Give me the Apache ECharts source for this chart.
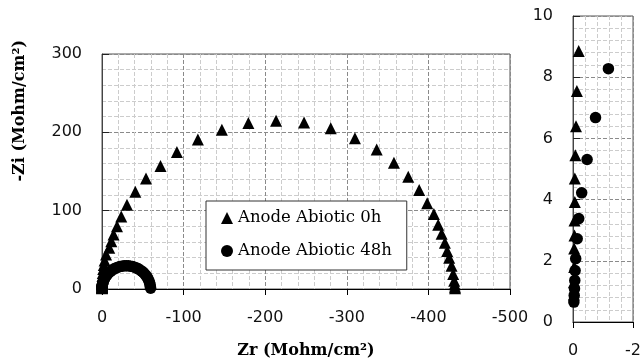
<!DOCTYPE html>
<html><head><meta charset="utf-8">
<script src="https://cdn.jsdelivr.net/npm/echarts@6/dist/echarts.min.js"></script>
<style>html,body{margin:0;padding:0;background:#fff}#c{width:644px;height:364px}</style>
</head><body><div id="c"></div>
<script>
const seriesNames = ['Anode Abiotic 0h', 'Anode Abiotic 48h'];
// [Zr, -Zi]
const abiotic0h = [
  [-0.03,0.9],[-0.03,1.3],[-0.04,1.8],[-0.04,2.4],[-0.05,2.83],[-0.05,3.32],[-0.06,3.92],[-0.06,4.69],
  [-0.08,5.45],[-0.1,6.4],[-0.13,7.55],[-0.19,8.86],[-0.26,10.6],[-0.4,13.2],[-0.65,16.5],[-1.0,20.5],
  [-1.5,25.5],[-2.2,30.5],[-3.2,36.5],[-5.0,44],[-8.9,52.7],[-11.4,61.1],[-14.2,69.5],[-18.4,80.1],
  [-23.6,92.7],[-30.6,107.4],[-40.8,124.3],[-53.9,141.1],[-71.7,157.1],[-91.8,174.8],[-117.5,190.7],
  [-146.9,203.4],[-179.4,211.8],[-213.3,214.7],[-247.6,212.7],[-280.3,205.1],[-310,192.5],[-336.6,178.1],
  [-357.8,161.3],[-375.3,143.2],[-388.7,126.3],[-398.5,109.5],[-406.7,95.6],[-412,82.1],[-416.2,70.4],
  [-420.2,59],[-423,48.5],[-425.5,40],[-428.4,29.6],[-430.4,19],[-431.6,10.6],[-432.2,6],[-432.5,3],[-432.7,1]
];
const abiotic48h = [
  [-0.03,0.65],[-0.04,0.87],[-0.05,1.09],[-0.06,1.36],[-0.07,1.68],[-0.09,2.07],[-0.14,2.72],[-0.19,3.38],
  [-0.29,4.22],[-0.47,5.31],[-0.75,6.68],[-1.18,8.28],[-1.8,10.2],[-2.8,12.5],[-4.0,14.9],[-5.4,17],
  [-7.0,19.1],[-8.7,21],[-10.6,22.8],[-12.7,24.3],[-14.9,25.7],[-17.2,26.9],[-19.5,27.9],[-22,28.7],
  [-24.5,29.2],[-27.1,29.6],[-29.7,29.7],[-32.3,29.6],[-34.9,29.2],[-37.4,28.7],[-39.9,27.9],[-42.2,26.9],
  [-44.5,25.7],[-46.7,24.3],[-48.8,22.8],[-50.7,21],[-52.4,19.1],[-54,17],[-55.4,14.9],[-56.6,12.5],
  [-57.6,10.2],[-58.4,7.7],[-58.9,5.2],[-59.3,2.6],[-59.6,1.0]
];
const mainXTicks = [0, -100, -200, -300, -400, -500];
const mainYTicks = [0, 100, 200, 300];
const insetXTicks = [0, -2];
const insetYTicks = [0, 2, 4, 6, 8, 10];

const numFont = {fontFamily: 'DejaVu Sans', fontSize: 16, color: '#111'};
const majorGrid = {show: true, lineStyle: {color: '#8a8a8a', type: [4, 2], width: 1}};
const minorGrid = {show: true, lineStyle: {color: '#cccccc', type: [4, 2], width: 1}};

function xAx(ticks, gridIndex, name) {
  const mn = Math.min.apply(null, ticks), mx = Math.max.apply(null, ticks);
  return {
    type: 'value', gridIndex: gridIndex, min: mn, max: mx, interval: (mx - mn) / (ticks.length - 1),
    inverse: true, name: name || '', nameLocation: 'middle', nameGap: 54,
    nameTextStyle: {fontFamily: 'DejaVu Serif', fontWeight: 'bold', fontSize: 16, color: '#000'},
    axisLine: {show: true, onZero: false, lineStyle: {color: '#000', width: 1}},
    axisTick: {show: true, inside: false, length: 6, lineStyle: {color: '#000'}},
    axisLabel: Object.assign({margin: 21}, numFont),
    splitLine: majorGrid, minorTick: {show: false, splitNumber: 5}, minorSplitLine: minorGrid
  };
}
function yAx(ticks, gridIndex) {
  const mn = Math.min.apply(null, ticks), mx = Math.max.apply(null, ticks);
  return {
    type: 'value', gridIndex: gridIndex, min: mn, max: mx, interval: (mx - mn) / (ticks.length - 1),
    axisLine: {show: true, onZero: false, lineStyle: {color: '#444', width: 1}},
    axisTick: {show: true, inside: true, length: 7, lineStyle: {color: '#222'}},
    axisLabel: Object.assign({margin: 20}, numFont),
    splitLine: majorGrid, minorTick: {show: false, splitNumber: 5}, minorSplitLine: minorGrid
  };
}
function sc(name, data, idx, sym) {
  return {
    name: name, type: 'scatter', xAxisIndex: idx, yAxisIndex: idx, data: data,
    symbol: sym, symbolSize: sym === 'triangle' ? 12 : 11.5,
    itemStyle: {color: '#000', opacity: 1}, clip: true
  };
}

const chart = echarts.init(document.getElementById('c'), null, {renderer: 'canvas'});
chart.setOption({
  animation: false,
  backgroundColor: '#fff',
  grid: [
    {left: 102, top: 54, width: 408, height: 238, show: true, borderColor: '#555', borderWidth: 1, backgroundColor: 'transparent'},
    {left: 573, top: 16, width: 64, height: 306, show: true, borderColor: '#555', borderWidth: 1, backgroundColor: 'transparent'}
  ],
  xAxis: [xAx(mainXTicks, 0, 'Zr (Mohm/cm²)'), xAx(insetXTicks, 1)],
  yAxis: [yAx(mainYTicks, 0), yAx(insetYTicks, 1)],
  legend: {
    data: [{name: seriesNames[0], icon: 'triangle'}, {name: seriesNames[1], icon: 'circle'}],
    orient: 'vertical', left: 206, top: 201,
    itemWidth: 12, itemHeight: 12, itemGap: 15,
    padding: [8, 15, 10, 15],
    backgroundColor: '#fff', borderColor: '#333', borderWidth: 1,
    itemStyle: {opacity: 1},
    textStyle: {fontFamily: 'DejaVu Serif', fontSize: 16.5, lineHeight: 18, color: '#000'},
    selectedMode: false
  },
  graphic: [{
    type: 'text', left: 12, top: 40, rotation: Math.PI / 2,
    style: {text: '-Zi (Mohm/cm²)', fontFamily: 'DejaVu Serif', fontWeight: 'bold', fontSize: 16, fill: '#000'}
  }],
  series: [
    sc(seriesNames[0], abiotic0h, 0, 'triangle'),
    sc(seriesNames[1], abiotic48h, 0, 'circle'),
    sc(seriesNames[0], abiotic0h, 1, 'triangle'),
    sc(seriesNames[1], abiotic48h, 1, 'circle')
  ]
});
</script></body></html>
